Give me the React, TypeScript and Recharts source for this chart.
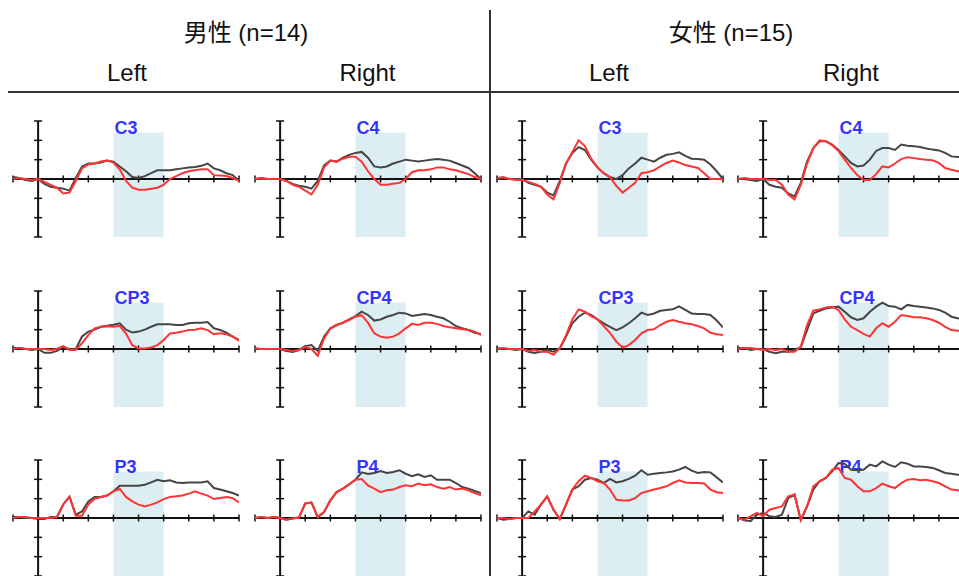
import React from 'react';
import { LineChart, Line, XAxis, YAxis, ReferenceArea, ReferenceLine } from 'recharts';

const FONT = "'Liberation Sans', Arial, 'Noto Sans CJK JP', sans-serif";

// time points (ms)
const times = [-100, -75, -50, -25, 0, 25, 50, 75, 100, 125, 150, 175, 200, 225, 250, 275, 300, 325, 350, 375, 400, 425, 450, 475, 500, 525, 550, 575, 600, 625, 650, 675, 700, 725, 750, 775, 800];

// group headers and column labels
const groups = ['男性 (n=14)', '女性 (n=15)'];
const sides = ['Left', 'Right'];
const xTicks = [-100, 100, 200, 300, 400, 500, 600, 700, 800];
const yTicks = [-3, -2, -1, 1, 2, 3];
const windowStart = 300;
const windowEnd = 500;

// male, left C3
const mC3Gray = [0.1, 0.05, -0.05, -0.1, 0, -0.25, -0.4, -0.45, -0.5, -0.6, 0.05, 0.65, 0.8, 0.8, 0.85, 0.95, 0.9, 0.65, 0.4, 0.1, 0.05, 0.15, 0.3, 0.45, 0.45, 0.45, 0.5, 0.55, 0.6, 0.62, 0.68, 0.8, 0.55, 0.45, 0.3, 0.2, -0.1];
const mC3Red = [0, 0.05, 0, -0.05, 0, -0.15, -0.3, -0.45, -0.75, -0.7, -0.1, 0.55, 0.75, 0.8, 0.9, 0.95, 0.85, 0.5, -0.1, -0.45, -0.55, -0.55, -0.5, -0.45, -0.3, 0.0, 0.15, 0.3, 0.4, 0.45, 0.5, 0.5, 0.2, 0.18, 0.15, 0.05, -0.1];
// male, right C4
const mC4Gray = [0, 0.05, 0, 0, 0, -0.1, -0.25, -0.35, -0.4, -0.5, -0.1, 0.7, 0.95, 0.9, 1.1, 1.25, 1.35, 1.4, 1.1, 0.65, 0.6, 0.65, 0.8, 0.9, 1.0, 0.95, 0.9, 0.95, 1.0, 1.03, 1.0, 0.95, 0.83, 0.7, 0.57, 0.3, 0.0];
const mC4Red = [0, 0.02, 0, 0, 0, -0.1, -0.3, -0.4, -0.6, -0.8, -0.3, 0.6, 0.95, 0.9, 1.05, 1.15, 1.15, 0.9, 0.4, 0.0, -0.3, -0.3, -0.25, -0.2, 0.0, 0.35, 0.45, 0.45, 0.5, 0.6, 0.6, 0.5, 0.45, 0.35, 0.25, 0.1, 0];
// female, left C3
const fC3Gray = [0, 0.05, 0, 0, 0, -0.2, -0.3, -0.4, -0.7, -0.85, -0.1, 0.8, 1.35, 1.65, 1.5, 1.0, 0.6, 0.3, 0.1, 0.0, 0.2, 0.55, 0.8, 1.1, 1.0, 0.9, 1.1, 1.25, 1.3, 1.38, 1.2, 1.05, 1.03, 1.0, 0.75, 0.4, 0.0];
const fC3Red = [0.05, 0.1, 0, -0.05, -0.05, -0.15, -0.25, -0.4, -0.8, -1.05, -0.2, 0.8, 1.4, 2.0, 1.7, 1.05, 0.6, 0.3, 0.1, -0.35, -0.7, -0.45, -0.2, 0.3, 0.35, 0.45, 0.65, 0.83, 0.95, 0.85, 0.72, 0.65, 0.57, 0.3, 0.0, 0.0, 0.0];
// female, right C4
const fC4Gray = [0, 0, -0.05, -0.1, 0, -0.3, -0.4, -0.45, -0.75, -0.9, -0.2, 0.9, 1.6, 1.95, 1.95, 1.78, 1.5, 1.17, 0.83, 0.65, 0.7, 1.0, 1.45, 1.6, 1.6, 1.5, 1.78, 1.72, 1.7, 1.65, 1.58, 1.52, 1.48, 1.35, 1.17, 1.14, 1.1];
const fC4Red = [0, 0.05, 0, 0, 0, -0.05, -0.05, -0.3, -0.8, -1.05, -0.3, 0.8, 1.6, 2.0, 1.95, 1.75, 1.45, 1.0, 0.57, 0.2, -0.05, -0.05, 0.25, 0.65, 0.6, 0.8, 1.03, 1.13, 1.08, 1.03, 1.0, 0.97, 0.83, 0.57, 0.48, 0.4, 0.38];
// male, left CP3
const mCP3Gray = [0.05, 0.05, 0, -0.05, 0, -0.2, -0.2, -0.1, 0.1, 0.0, 0.0, 0.65, 0.9, 1.0, 1.15, 1.2, 1.25, 1.33, 1.0, 0.85, 0.9, 1.0, 1.15, 1.28, 1.28, 1.28, 1.24, 1.24, 1.33, 1.36, 1.36, 1.4, 1.07, 0.98, 0.85, 0.64, 0.47];
const mCP3Red = [0, 0.05, 0, 0, 0, 0, -0.05, 0, 0.15, -0.05, -0.05, 0.3, 0.72, 1.07, 1.15, 1.18, 1.15, 1.2, 0.8, 0.2, 0.03, 0.03, 0.08, 0.2, 0.47, 0.8, 0.84, 0.9, 0.98, 1.0, 1.07, 0.98, 0.76, 0.81, 0.76, 0.64, 0.43];
// male, right CP4
const mCP4Gray = [0, 0, 0, 0, 0, -0.1, -0.15, -0.05, 0.15, 0.2, -0.1, 0.64, 1.07, 1.24, 1.36, 1.53, 1.7, 1.93, 1.76, 1.47, 1.53, 1.67, 1.76, 1.88, 1.84, 1.71, 1.76, 1.81, 1.76, 1.67, 1.59, 1.41, 1.19, 1.07, 0.98, 0.84, 0.77];
const mCP4Red = [0.05, 0, 0, 0, 0, -0.05, -0.1, -0.05, 0.1, 0.0, -0.35, 0.55, 1.05, 1.24, 1.36, 1.5, 1.67, 1.75, 1.35, 0.81, 0.64, 0.58, 0.64, 0.81, 1.07, 1.3, 1.24, 1.36, 1.36, 1.3, 1.19, 1.12, 1.07, 1.02, 0.98, 0.9, 0.72];
// female, left CP3
const fCP3Gray = [0.05, 0, 0, -0.05, 0, -0.14, -0.2, -0.14, -0.05, -0.14, 0.03, 0.64, 1.33, 1.67, 1.88, 1.76, 1.53, 1.33, 1.15, 0.98, 1.12, 1.33, 1.59, 1.88, 1.76, 1.84, 1.98, 2.02, 2.05, 2.2, 2.02, 1.84, 1.81, 1.81, 1.76, 1.47, 1.12];
const fCP3Red = [0, 0.05, 0, 0, 0, -0.1, -0.05, -0.14, -0.14, -0.3, 0.03, 0.72, 1.53, 2.05, 1.93, 1.7, 1.53, 1.19, 0.84, 0.38, 0.07, 0.2, 0.47, 0.81, 0.98, 1.02, 1.24, 1.41, 1.5, 1.41, 1.33, 1.28, 1.19, 1.07, 0.84, 0.76, 0.72];
// female, right CP4
const fCP4Gray = [0.05, 0.05, -0.05, 0, 0, -0.14, -0.22, -0.14, -0.14, -0.05, 0.09, 0.98, 1.84, 1.98, 2.1, 2.15, 2.19, 1.93, 1.64, 1.5, 1.59, 1.93, 2.19, 2.4, 2.22, 2.19, 2.05, 2.28, 2.22, 2.19, 2.15, 2.1, 2.02, 1.88, 1.67, 1.59, 1.55];
const fCP4Red = [0, 0.05, 0.05, 0, -0.05, 0, -0.05, 0, -0.14, -0.14, 0.12, 1.24, 1.98, 2.05, 2.15, 2.19, 2.02, 1.53, 1.15, 0.98, 0.78, 0.64, 1.07, 1.33, 1.15, 1.41, 1.76, 1.71, 1.64, 1.64, 1.59, 1.5, 1.36, 1.15, 0.98, 0.95, 0.93];
// male, left P3
const mP3Gray = [0.05, 0.05, 0, 0, -0.05, -0.05, 0.05, 0.05, 0.7, 1.1, 0.17, 0.34, 0.86, 1.09, 1.09, 1.16, 1.38, 1.67, 1.67, 1.67, 1.67, 1.72, 1.84, 1.98, 1.9, 1.95, 1.84, 1.81, 1.84, 1.84, 1.84, 1.9, 1.55, 1.47, 1.38, 1.29, 1.16];
const mP3Red = [0, 0.05, 0.05, 0, 0, 0, 0, 0.05, 0.7, 1.1, 0.12, 0.12, 0.7, 1.0, 1.09, 1.16, 1.38, 1.5, 1.09, 0.86, 0.69, 0.6, 0.69, 0.81, 0.98, 1.09, 1.12, 1.16, 1.26, 1.38, 1.26, 1.16, 0.98, 1.03, 1.09, 1.03, 0.81];
// male, right P4
const mP4Gray = [0, 0.05, 0, 0.05, 0, -0.09, -0.03, 0.02, 0.75, 0.8, 0.05, 0.31, 0.91, 1.34, 1.52, 1.74, 1.98, 2.36, 2.28, 2.33, 2.43, 2.33, 2.38, 2.47, 2.29, 2.16, 2.26, 2.12, 2.21, 1.98, 1.98, 1.98, 1.81, 1.6, 1.52, 1.4, 1.29];
const mP4Red = [0, 0.05, 0, 0.05, 0, -0.09, -0.03, 0.02, 0.75, 0.8, 0.05, 0.31, 0.91, 1.34, 1.52, 1.74, 1.98, 2.02, 1.69, 1.52, 1.34, 1.43, 1.47, 1.6, 1.69, 1.64, 1.78, 1.69, 1.74, 1.6, 1.52, 1.6, 1.47, 1.52, 1.43, 1.29, 1.17];
// female, left P3
const fP3Gray = [0, -0.09, -0.05, 0, 0, 0.34, 0.17, 0.69, 1.12, 0.43, -0.05, 0.69, 1.47, 1.64, 1.98, 2.07, 1.98, 1.81, 2.02, 1.84, 1.9, 2.02, 2.19, 2.47, 2.24, 2.29, 2.33, 2.36, 2.41, 2.5, 2.64, 2.45, 2.33, 2.38, 2.36, 2.1, 1.84];
const fP3Red = [0, 0, -0.05, 0, 0, 0, 0.34, 0.69, 1.12, 0.43, -0.05, 0.69, 1.47, 1.9, 2.19, 2.07, 1.9, 1.81, 1.47, 0.95, 0.9, 0.91, 1.03, 1.29, 1.38, 1.47, 1.55, 1.64, 1.81, 1.95, 1.84, 1.81, 1.81, 1.78, 1.47, 1.33, 1.29];
// female, right P4
const fP4Gray = [0, -0.12, -0.17, 0.17, 0.26, 0.09, 0.05, 0.17, 1.03, 1.21, -0.1, 0.6, 1.47, 1.9, 2.07, 2.41, 2.84, 2.81, 2.5, 2.47, 2.5, 2.76, 2.67, 2.93, 2.76, 2.64, 2.88, 2.81, 2.67, 2.67, 2.64, 2.59, 2.47, 2.33, 2.29, 2.24, 2.2];
const fP4Red = [0, -0.09, 0.09, 0.26, 0.09, 0.43, 0.52, 0.6, 1.12, 1.21, -0.1, 0.6, 1.64, 1.9, 2.07, 2.5, 2.59, 2.07, 1.98, 1.64, 1.38, 1.38, 1.55, 1.78, 1.64, 1.55, 1.81, 1.98, 2.02, 1.95, 1.98, 1.9, 1.81, 1.64, 1.47, 1.43, 1.4];

const panels = [
  { label: 'C3', gray: mC3Gray, red: mC3Red, row: 0, col: 0 },
  { label: 'C4', gray: mC4Gray, red: mC4Red, row: 0, col: 1 },
  { label: 'C3', gray: fC3Gray, red: fC3Red, row: 0, col: 2 },
  { label: 'C4', gray: fC4Gray, red: fC4Red, row: 0, col: 3 },
  { label: 'CP3', gray: mCP3Gray, red: mCP3Red, row: 1, col: 0 },
  { label: 'CP4', gray: mCP4Gray, red: mCP4Red, row: 1, col: 1 },
  { label: 'CP3', gray: fCP3Gray, red: fCP3Red, row: 1, col: 2 },
  { label: 'CP4', gray: fCP4Gray, red: fCP4Red, row: 1, col: 3 },
  { label: 'P3', gray: mP3Gray, red: mP3Red, row: 2, col: 0 },
  { label: 'P4', gray: mP4Gray, red: mP4Red, row: 2, col: 1 },
  { label: 'P3', gray: fP3Gray, red: fP3Red, row: 2, col: 2 },
  { label: 'P4', gray: fP4Gray, red: fP4Red, row: 2, col: 3 },
];

// layout
const COL_X = [13, 254.5, 496.5, 737.5]; // pixel of t = -100
const ROW_ZERO = [179.3, 349, 518.3]; // pixel of y = 0
const PLOT_W = 226;
const PLOT_H = 116;
const M = { top: 12, right: 6, bottom: 12, left: 6 };
const AXIS = '#111';

function Panel({ label, gray, red, left, top }: any) {
  const data = times.map((t, i) => ({ t, g: gray[i], r: red[i] }));
  const renderLabel = (p: any) => {
    const vb = p.viewBox || {};
    return (
      <text x={vb.x + 1} y={vb.y + 1} fill="#3434ff" fontSize={18} fontWeight="bold" fontFamily={FONT}>
        {label}
      </text>
    );
  };
  return (
    <div style={{ position: 'absolute', left, top }}>
      <LineChart width={PLOT_W + M.left + M.right} height={PLOT_H + M.top + M.bottom} data={data} margin={M}>
        <XAxis dataKey="t" type="number" domain={[-100, 800]} hide allowDataOverflow />
        <YAxis type="number" domain={[-3, 3]} hide allowDataOverflow />
        <ReferenceArea x1={windowStart} x2={windowEnd} y1={-3} y2={2.4} fill="#ddeef3" fillOpacity={1} stroke="none" label={renderLabel} ifOverflow="visible" />
        <ReferenceLine y={0} stroke={AXIS} strokeWidth={2} />
        <ReferenceLine segment={[{ x: 0, y: -3 }, { x: 0, y: 3 }]} stroke={AXIS} strokeWidth={2} />
        {xTicks.map((v) => (
          <ReferenceLine key={'x' + v} segment={[{ x: v, y: -0.18 }, { x: v, y: 0.18 }]} stroke={AXIS} strokeWidth={1.5} ifOverflow="visible" />
        ))}
        {yTicks.map((v) => (
          <ReferenceLine key={'y' + v} segment={[{ x: -16, y: v }, { x: 16, y: v }]} stroke={AXIS} strokeWidth={1.5} ifOverflow="visible" />
        ))}
        <Line dataKey="g" type="linear" stroke="#454545" strokeWidth={2} dot={false} activeDot={false} isAnimationActive={false} />
        <Line dataKey="r" type="linear" stroke="#ff3333" strokeWidth={2} dot={false} activeDot={false} isAnimationActive={false} />
      </LineChart>
    </div>
  );
}

export default function App() {
  const groupCenters = [246, 731];
  const sideCenters = [127, 367.5, 609, 851];
  return (
    <div style={{ position: 'absolute', left: 0, top: 0, width: 959, height: 576, overflow: 'hidden', background: '#fff', fontFamily: FONT }}>
      {groups.map((g, i) => (
        <div key={g} style={{ position: 'absolute', left: groupCenters[i] - 120, width: 240, top: 21, fontSize: 24, lineHeight: '24px', textAlign: 'center', color: '#111' }}>{g}</div>
      ))}
      {sideCenters.map((c, i) => (
        <div key={i} style={{ position: 'absolute', left: c - 80, width: 160, top: 61, fontSize: 24, lineHeight: '24px', textAlign: 'center', color: '#111' }}>{sides[i % 2]}</div>
      ))}
      <div style={{ position: 'absolute', left: 8, top: 91, width: 951, height: 2, background: '#333' }} />
      <div style={{ position: 'absolute', left: 489, top: 10, width: 2, height: 566, background: '#333' }} />
      {panels.map((p, i) => (
        <Panel key={i} label={p.label} gray={p.gray} red={p.red}
          left={COL_X[p.col] - M.left} top={ROW_ZERO[p.row] - PLOT_H / 2 - M.top} />
      ))}
    </div>
  );
}
